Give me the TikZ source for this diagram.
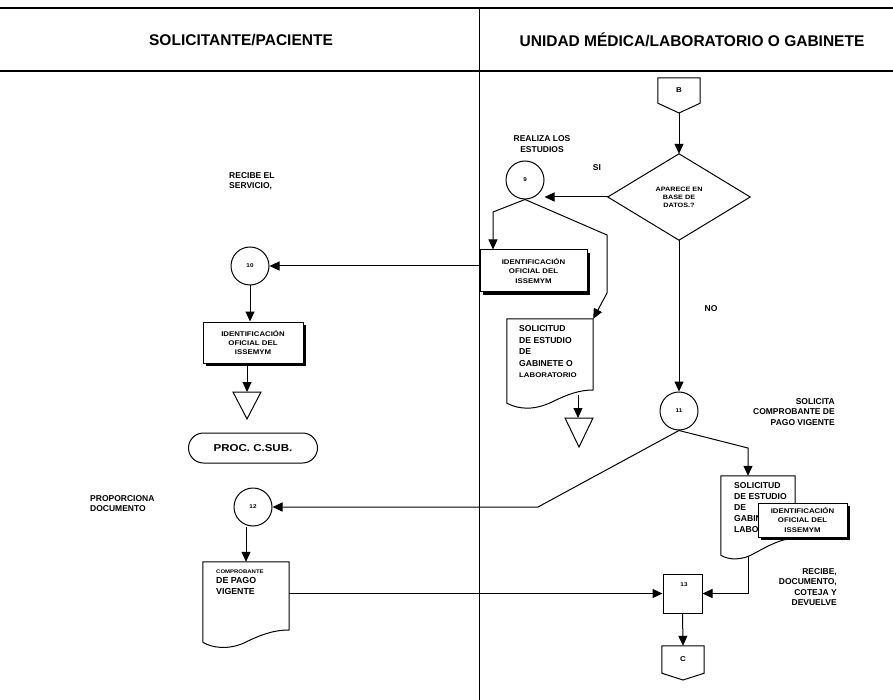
\documentclass[tikz,border=0pt]{standalone}
\usepackage{fontspec}
\setmainfont{Liberation Sans}
\newfontfamily\widesf[FakeStretch=1.15]{Liberation Sans}
\usetikzlibrary{arrows.meta,shadows}

\newcommand{\fHdr}{\fontsize{15.5}{18}\selectfont\bfseries}
\newcommand{\fLbl}{\fontsize{8.5}{10.5}\selectfont\bfseries}
\newcommand{\fBox}{\widesf\fontsize{6.8}{9.4}\selectfont\bfseries}
\newcommand{\fDia}{\widesf\fontsize{6.3}{8}\selectfont\bfseries}
\newcommand{\fDoc}{\fontsize{8.6}{11.8}\selectfont\bfseries}
\newcommand{\fNum}{\widesf\fontsize{5.5}{6}\selectfont\bfseries}
\newcommand{\fLet}{\widesf\fontsize{7}{8}\selectfont\bfseries}

\tikzset{
  ln/.style={line width=1pt},
  flow/.style={ln, -{Triangle[length=10pt,width=9pt]}},
  conn/.style={circle, draw, ln, minimum size=38pt, inner sep=0pt, font=\fNum},
  boxshadow/.style={drop shadow={shadow xshift=3pt, shadow yshift=-3pt, opacity=1, fill=black}},
  bx/.style={rectangle, draw, ln, fill=white, align=center, inner sep=0pt, font=\fBox, boxshadow},
  lbl/.style={inner sep=0pt, font=\fLbl},
  area/.style={inner sep=0pt, draw=none},
  doctxt/.style={inner sep=0pt, anchor=north west, align=left, font=\fDoc},
}

\begin{document}
\begin{tikzpicture}[x=1pt, y=-1pt]
\useasboundingbox (0,0) rectangle (893,700);

% swimlane frame
\draw[line width=1.2pt] (0,8) -- (893,8);
\draw[line width=1.2pt] (0,71) -- (893,71);
\draw[line width=0.8pt] (479,8) -- (479,700);
\node[lbl, font=\fHdr] (hdrA) at (241,40) {SOLICITANTE/PACIENTE};
\node[lbl, font=\fHdr] (hdrB) at (692,40) {UNIDAD MÉDICA/LABORATORIO O GABINETE};

% ---- right lane ----
% entry connector B
\node[area, minimum width=42pt, minimum height=25pt, font=\fLet] (B) at (679,90.5) {B};
\coordinate (Bp) at (679,113);
\draw[ln] (B.north west) -- (B.north east) -- (B.south east) -- (Bp) -- (B.south west) -- cycle;

% decision
\node[area, minimum width=142pt, minimum height=86pt, align=center, font=\fDia] (dec) at (679,197) {APARECE EN\\BASE DE\\DATOS.?};
\draw[ln] (dec.north) -- (dec.east) -- (dec.south) -- (dec.west) -- cycle;
\draw[flow] (Bp) -- (dec.north);

% step 9
\node[conn] (c9) at (525,180) {9};
\node[lbl, align=center] (tReal) at (542,144) {REALIZA LOS\\ESTUDIOS};
\node[lbl] (tSi) at (597,168) {SI};
\draw[flow] (dec.west) -- (dec.west -| c9.east);

% identification card
\node[bx, minimum width=107pt, minimum height=42pt] (id1) at (533.5,271) {IDENTIFICACIÓN\\OFICIAL DEL\\ISSEMYM};
\coordinate (k1) at (493,212);
\draw[flow] (c9.south) -- (k1) -- (k1 |- id1.north);

% study request document
\node[area, minimum width=86pt, minimum height=84pt] (d1) at (550,361) {};
\draw[ln, fill=white] (d1.north west) -- (d1.north east) -- (593,390)
  .. controls (580,390) and (568,394) .. (552,402)
  .. controls (535,410) and (520,410) .. (d1.south west) -- cycle;
\node[doctxt] (d1t) at (519,325) {SOLICITUD\\DE ESTUDIO\\DE\\GABINETE O};
\node[inner sep=0pt, anchor=north west, font=\fBox] (d1l) at (519,373) {LABORATORIO};
\coordinate (k2) at (607,235);
\coordinate (k3) at (607,293);
\draw[flow] (c9.south) -- (k2) -- (k3) -- (d1.north east);

% archive after the document
\coordinate (d1b) at (578,395);
\coordinate (t2) at (579,418);
\draw[flow] (d1b) -- (d1b |- t2);
\draw[ln] (565,418) -- (593,418) -- (579,447) -- cycle;

% step 11
\node[conn] (c11) at (679,411) {11};
\draw[flow] (dec.south) -- (c11.north);
\node[lbl] (tNo) at (711,309) {NO};
\node[lbl, anchor=north east, align=right] (tSol) at (835,398) {SOLICITA\\COMPROBANTE DE\\PAGO VIGENTE};

% request plus identification
\node[area, minimum width=74pt, minimum height=79pt] (d2) at (758,515.5) {};
\draw[ln, fill=white] (d2.north west) -- (d2.north east) -- (795,538)
  .. controls (780,539) and (768,546) .. (755,553)
  .. controls (742,561) and (728,560) .. (d2.south west) -- cycle;
\node[doctxt, font=\fontsize{8.6}{11}\selectfont\bfseries] (d2t) at (734,482) {SOLICITUD\\DE ESTUDIO\\DE\\GABINETE O\\LABORATORIO};
\node[bx, minimum width=89pt, minimum height=34pt] (id3) at (802.5,520) {IDENTIFICACIÓN\\OFICIAL DEL\\ISSEMYM};
\coordinate (k4) at (748,448);
\draw[flow] (c11.south) -- (k4) -- (k4 |- d2.north);

% step 13
\node[draw, ln, minimum size=39pt, inner sep=0pt] (b13) at (682.5,593.5) {};
\node[inner sep=0pt, font=\fNum] (n13) at (684,585) {13};
\coordinate (d2b) at (748,557);
\draw[flow] (d2b) -- (d2b |- b13.east) -- (b13.east);
\node[lbl, anchor=north east, align=right] (tRec) at (837,568) {RECIBE,\\DOCUMENTO,\\COTEJA Y\\DEVUELVE};

% exit connector C
\node[area, minimum width=42pt, minimum height=27pt, font=\fLet] (C) at (683,659.5) {C};
\coordinate (Cp) at (683,680);
\draw[ln] (C.north west) -- (C.north east) -- (C.south east) -- (Cp) -- (C.south west) -- cycle;
\draw[flow] (b13.south) -- (C.north);

% ---- left lane ----
% step 10
\node[conn] (c10) at (250,266) {10};
\node[lbl, anchor=north west, align=left] (tServ) at (229,172) {RECIBE EL\\SERVICIO,};
\draw[flow] (id1.west |- c10.east) -- (c10.east);

\node[bx, minimum width=100pt, minimum height=41pt] (id2) at (253,342.5) {IDENTIFICACIÓN\\OFICIAL DEL\\ISSEMYM};
\draw[flow] (c10.south) -- (c10.south |- id2.north);

\coordinate (t1) at (247,392);
\draw[flow] (t1 |- id2.south) -- (t1);
\draw[ln] (233,392) -- (261,392) -- (247,419) -- cycle;

\node[draw, ln, rounded corners=15pt, minimum width=129pt, minimum height=30pt, inner sep=0pt,
      font=\widesf\fontsize{10}{12}\selectfont\bfseries] (proc) at (253,448) {PROC. C.SUB.};

% step 12
\node[conn] (c12) at (253,507) {12};
\node[lbl, anchor=north west, align=left] (tProp) at (90,495) {PROPORCIONA\\DOCUMENTO};
\coordinate (k5) at (538,507);
\draw[flow] (c11.south) -- (k5) -- (c12.east);

% proof of payment
\node[area, minimum width=86pt, minimum height=80pt] (d3) at (246,602) {};
\draw[ln] (d3.north west) -- (d3.north east) -- (289,630)
  .. controls (272,630) and (258,636) .. (244,643)
  .. controls (228,650) and (212,648) .. (d3.south west) -- cycle;
\node[inner sep=0pt, anchor=west, font=\widesf\fontsize{5.2}{6}\selectfont\bfseries] (d3a) at (216,572) {COMPROBANTE};
\node[doctxt, font=\fontsize{8.8}{11}\selectfont\bfseries] (d3t) at (216,577) {DE PAGO\\VIGENTE};
\draw[flow] (c12.south -| d3.north) -- (d3.north);
\draw[flow] (d3.east |- b13.west) -- (b13.west);

\end{tikzpicture}
\end{document}
